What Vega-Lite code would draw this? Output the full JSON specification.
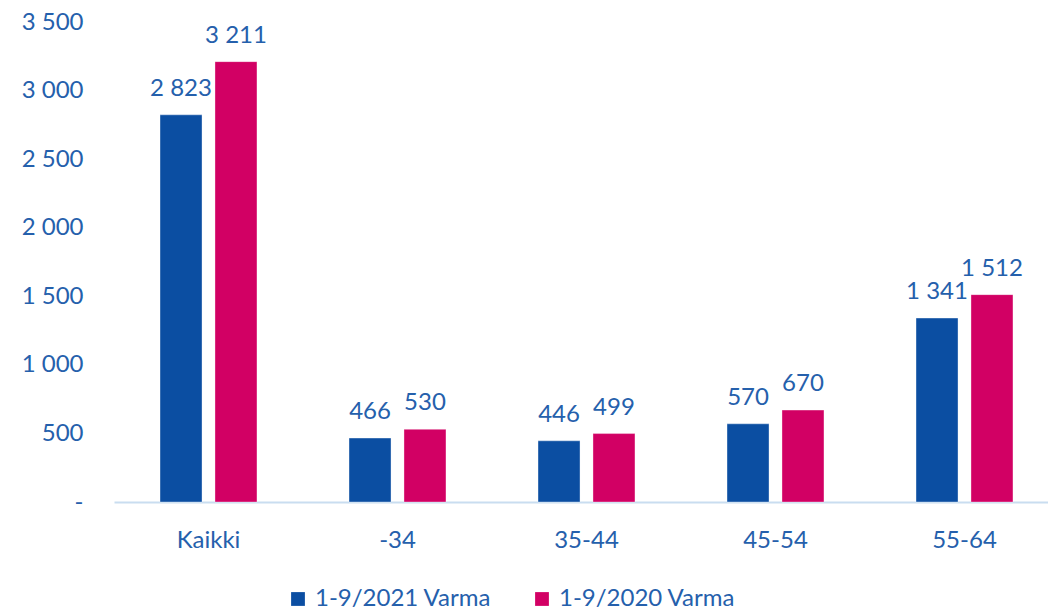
{
  "$schema": "https://vega.github.io/schema/vega-lite/v6.json",
  "width": 945,
  "height": 480,
  "autosize": {"type": "none"},
  "padding": {"left": 114, "top": 22, "right": 0, "bottom": 113},
  "background": "white",
  "config": {
    "font": "Lato",
    "view": {"stroke": null},
    "text": {"font": "Lato"}
  },
  "data": {
    "values": [
      {"group": "Kaikki", "series": "1-9/2021 Varma", "value": 2823},
      {"group": "Kaikki", "series": "1-9/2020 Varma", "value": 3211},
      {"group": "-34", "series": "1-9/2021 Varma", "value": 466},
      {"group": "-34", "series": "1-9/2020 Varma", "value": 530},
      {"group": "35-44", "series": "1-9/2021 Varma", "value": 446},
      {"group": "35-44", "series": "1-9/2020 Varma", "value": 499},
      {"group": "45-54", "series": "1-9/2021 Varma", "value": 570},
      {"group": "45-54", "series": "1-9/2020 Varma", "value": 670},
      {"group": "55-64", "series": "1-9/2021 Varma", "value": 1341},
      {"group": "55-64", "series": "1-9/2020 Varma", "value": 1512}
    ]
  },
  "transform": [
    {"calculate": "replace(format(datum.value, ','), ',', ' ')", "as": "label"}
  ],
  "encoding": {
    "x": {
      "field": "group",
      "type": "nominal",
      "sort": ["Kaikki", "-34", "35-44", "45-54", "55-64"],
      "scale": {"paddingInner": 0.487, "paddingOuter": 0.2435},
      "axis": {
        "title": null,
        "labelAngle": 0,
        "labelFontSize": 24,
        "labelColor": "#2560AC",
        "labelBaseline": "alphabetic",
        "labelPadding": 45,
        "ticks": false,
        "domainColor": "#C9DDF0",
        "domainWidth": 2
      }
    },
    "xOffset": {
      "field": "series",
      "type": "nominal",
      "sort": ["1-9/2021 Varma", "1-9/2020 Varma"],
      "scale": {"paddingInner": 0.236, "paddingOuter": 0}
    },
    "y": {
      "field": "value",
      "type": "quantitative",
      "scale": {"domain": [0, 3500]},
      "axis": {
        "title": null,
        "values": [0, 500, 1000, 1500, 2000, 2500, 3000, 3500],
        "labelExpr": "datum.value == 0 ? '-' : replace(format(datum.value, ','), ',', ' ')",
        "labelFontSize": 24,
        "labelColor": "#2560AC",
        "labelPadding": 31,
        "ticks": false,
        "domain": false,
        "grid": false,
        "encode": {
          "labels": {
            "update": {
              "dx": {"signal": "datum.value === 0 ? -15 : 0"}
            }
          }
        }
      }
    }
  },
  "layer": [
    {
      "mark": {"type": "bar", "stroke": "#FFFFFF", "strokeOpacity": 0.35, "strokeWidth": 1},
      "encoding": {
        "color": {
          "field": "series",
          "type": "nominal",
          "sort": ["1-9/2021 Varma", "1-9/2020 Varma"],
          "scale": {"domain": ["1-9/2021 Varma", "1-9/2020 Varma"], "range": ["#0B4EA2", "#D20064"]},
          "legend": {
            "title": null,
            "orient": "none",
            "direction": "horizontal",
            "legendX": 172,
            "legendY": 565,
            "symbolType": "square",
            "symbolSize": 190,
            "symbolStrokeWidth": 0,
            "labelFontSize": 24,
            "labelColor": "#2560AC",
            "labelOffset": 5,
            "columnPadding": 38,
            "labelLimit": 300
          }
        }
      }
    },
    {
      "mark": {"type": "text", "baseline": "alphabetic", "dy": -19, "fontSize": 24, "color": "#2560AC"},
      "encoding": {
        "text": {"field": "label"}
      }
    }
  ]
}
